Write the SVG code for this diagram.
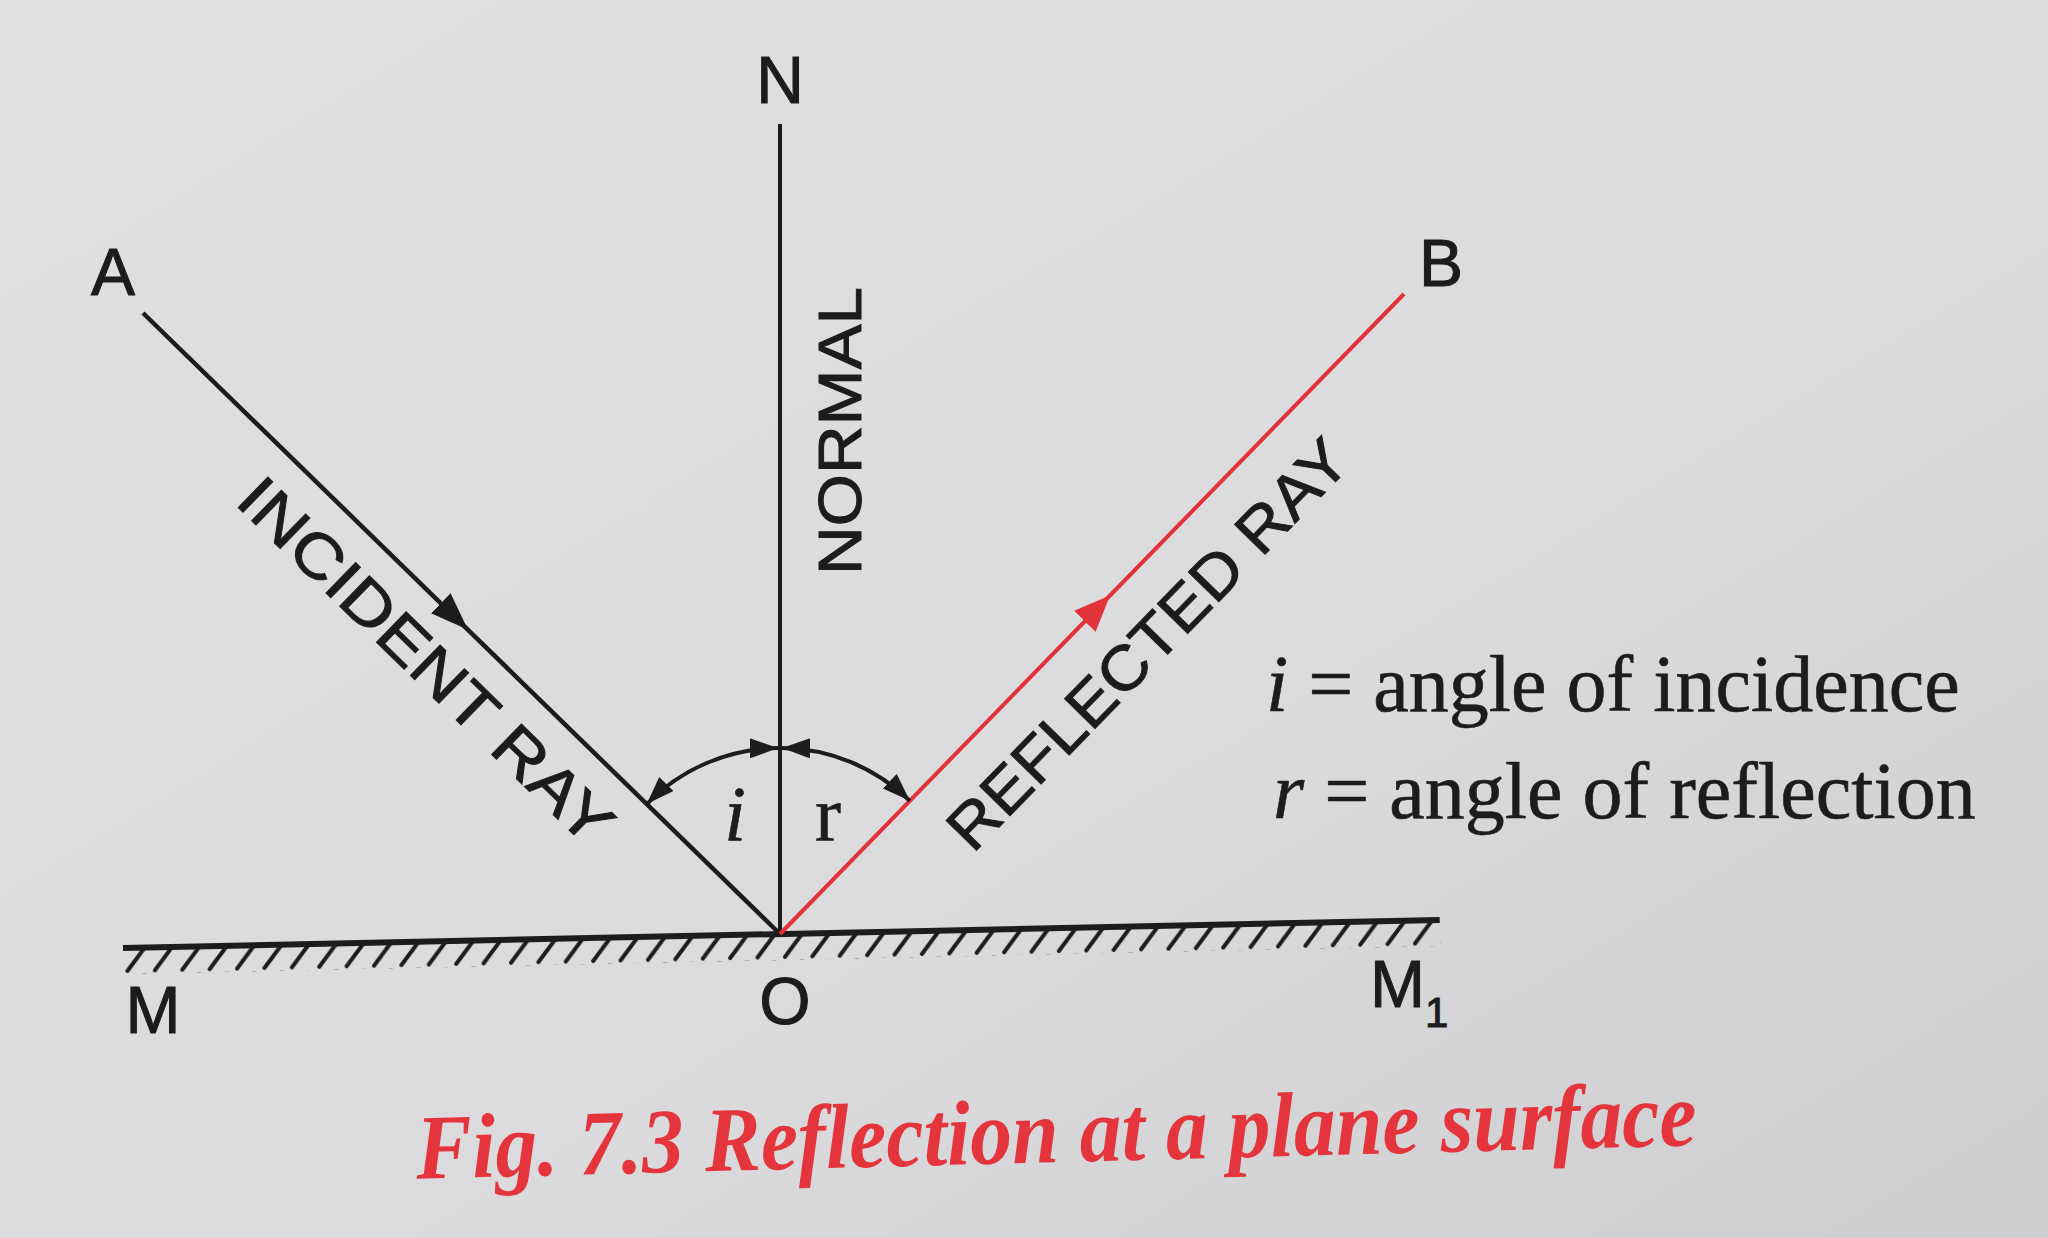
<svg xmlns="http://www.w3.org/2000/svg" width="2048" height="1238" viewBox="0 0 2048 1238">
  <defs>
    <linearGradient id="paper" x1="0" y1="0" x2="1" y2="1">
      <stop offset="0" stop-color="#e0e0e2"/>
      <stop offset="0.6" stop-color="#dbdbdd"/>
      <stop offset="1" stop-color="#cdcdcf"/>
    </linearGradient>
    <pattern id="hatch" patternUnits="userSpaceOnUse" width="27.4" height="26">
      <line x1="21" y1="1" x2="4" y2="23" stroke="#1c1c1c" stroke-width="4" stroke-linecap="round"/>
    </pattern>
    <marker id="arcHead" markerUnits="userSpaceOnUse" viewBox="0 0 28 20" refX="28" refY="10" markerWidth="28" markerHeight="20" orient="auto-start-reverse">
      <path d="M0,0 L28,10 L0,20 z" fill="#1c1c1c"/>
    </marker>
    <marker id="blackHead" markerUnits="userSpaceOnUse" viewBox="0 0 38 28" refX="38" refY="14" markerWidth="38" markerHeight="28" orient="auto">
      <path d="M0,0 L38,14 L0,28 z" fill="#1c1c1c"/>
    </marker>
    <marker id="redHead" markerUnits="userSpaceOnUse" viewBox="0 0 36 30" refX="36" refY="15" markerWidth="36" markerHeight="30" orient="auto">
      <path d="M0,0 L36,15 L0,30 z" fill="#e2323a"/>
    </marker>
  </defs>
  <style>
    .lbl { font-family: "Liberation Sans", Arial, Helvetica, sans-serif; font-size: 66px; fill: #1c1c1c; stroke: #1c1c1c; stroke-width: 1px; }
    .ray { font-family: "Liberation Sans", Arial, Helvetica, sans-serif; font-size: 62px; fill: #1c1c1c; stroke: #1c1c1c; stroke-width: 1px; }
    .leg { font-family: "Liberation Serif", "Times New Roman", serif; font-size: 80px; fill: #1c1c1c; stroke: #1c1c1c; stroke-width: 0.6px; }
    .ang { font-family: "Liberation Serif", "Times New Roman", serif; font-size: 78px; fill: #1c1c1c; stroke: #1c1c1c; stroke-width: 0.6px; }
    .cap { font-family: "Liberation Serif", "Times New Roman", serif; font-size: 92px; font-weight: bold; font-style: italic; fill: #e4343c; }
    .blk { stroke: #1c1c1c; fill: none; }
  </style>

  <rect x="0" y="0" width="2048" height="1238" fill="url(#paper)"/>

  <g id="mirror" transform="translate(123,948) rotate(-1.218)">
    <rect x="0" y="2" width="1317" height="24" fill="url(#hatch)"/>
    <line x1="0" y1="0" x2="1317" y2="0" class="blk" stroke-width="6"/>
  </g>

  <g id="connectors">
    <line id="normal-line" x1="780" y1="124" x2="780" y2="934" class="blk" stroke-width="4"/>
    <path id="incident-ray" d="M143,313 L468,629.8 L780,934" class="blk" stroke-width="4.5" marker-mid="url(#blackHead)"/>
    <path id="reflected-ray" d="M780,934 L1110,595.5 L1404,294" stroke="#e2323a" fill="none" stroke-width="4" marker-mid="url(#redHead)"/>
    <path id="arc-i" d="M646.8,804.1 A186,186 0 0,1 778,748" class="blk" stroke-width="4" marker-start="url(#arcHead)" marker-end="url(#arcHead)"/>
    <path id="arc-r" d="M782,748 A186,186 0 0,1 909.8,800.8" class="blk" stroke-width="4" marker-start="url(#arcHead)" marker-end="url(#arcHead)"/>
  </g>

  <g id="label-N"><text class="lbl" x="780" y="103" text-anchor="middle">N</text></g>
  <g id="label-A"><text class="lbl" x="113" y="295" text-anchor="middle">A</text></g>
  <g id="label-B"><text class="lbl" x="1441" y="286" text-anchor="middle">B</text></g>
  <g id="label-M"><text class="lbl" x="153" y="1033" text-anchor="middle">M</text></g>
  <g id="label-O"><text class="lbl" x="785" y="1024" text-anchor="middle">O</text></g>
  <g id="label-M1"><text class="lbl" x="1370" y="1007">M<tspan font-size="42" dy="20">1</tspan></text></g>

  <g id="label-incident"><text class="ray" text-anchor="middle" textLength="496" lengthAdjust="spacingAndGlyphs" transform="translate(411,676) rotate(44.27)">INCIDENT RAY</text></g>
  <g id="label-normal"><text class="ray" text-anchor="middle" textLength="288" lengthAdjust="spacingAndGlyphs" transform="translate(861,431) rotate(-90)">NORMAL</text></g>
  <g id="label-reflected"><text class="ray" text-anchor="middle" textLength="545" lengthAdjust="spacingAndGlyphs" transform="translate(1163,659) rotate(-45.73)">REFLECTED RAY</text></g>

  <g id="label-i"><text class="ang" x="735" y="840" text-anchor="middle" font-style="italic">i</text></g>
  <g id="label-r"><text class="ang" x="828" y="840" text-anchor="middle">r</text></g>

  <g id="legend">
    <text class="leg" x="1266" y="711"><tspan font-style="italic">i</tspan> = angle of incidence</text>
    <text class="leg" x="1273" y="818"><tspan font-style="italic">r</tspan> = angle of reflection</text>
  </g>

  <g id="caption">
    <text class="cap" text-anchor="middle" textLength="1281" lengthAdjust="spacingAndGlyphs" transform="translate(1057,1162) rotate(-1.5)">Fig. 7.3 Reflection at a plane surface</text>
  </g>
</svg>
